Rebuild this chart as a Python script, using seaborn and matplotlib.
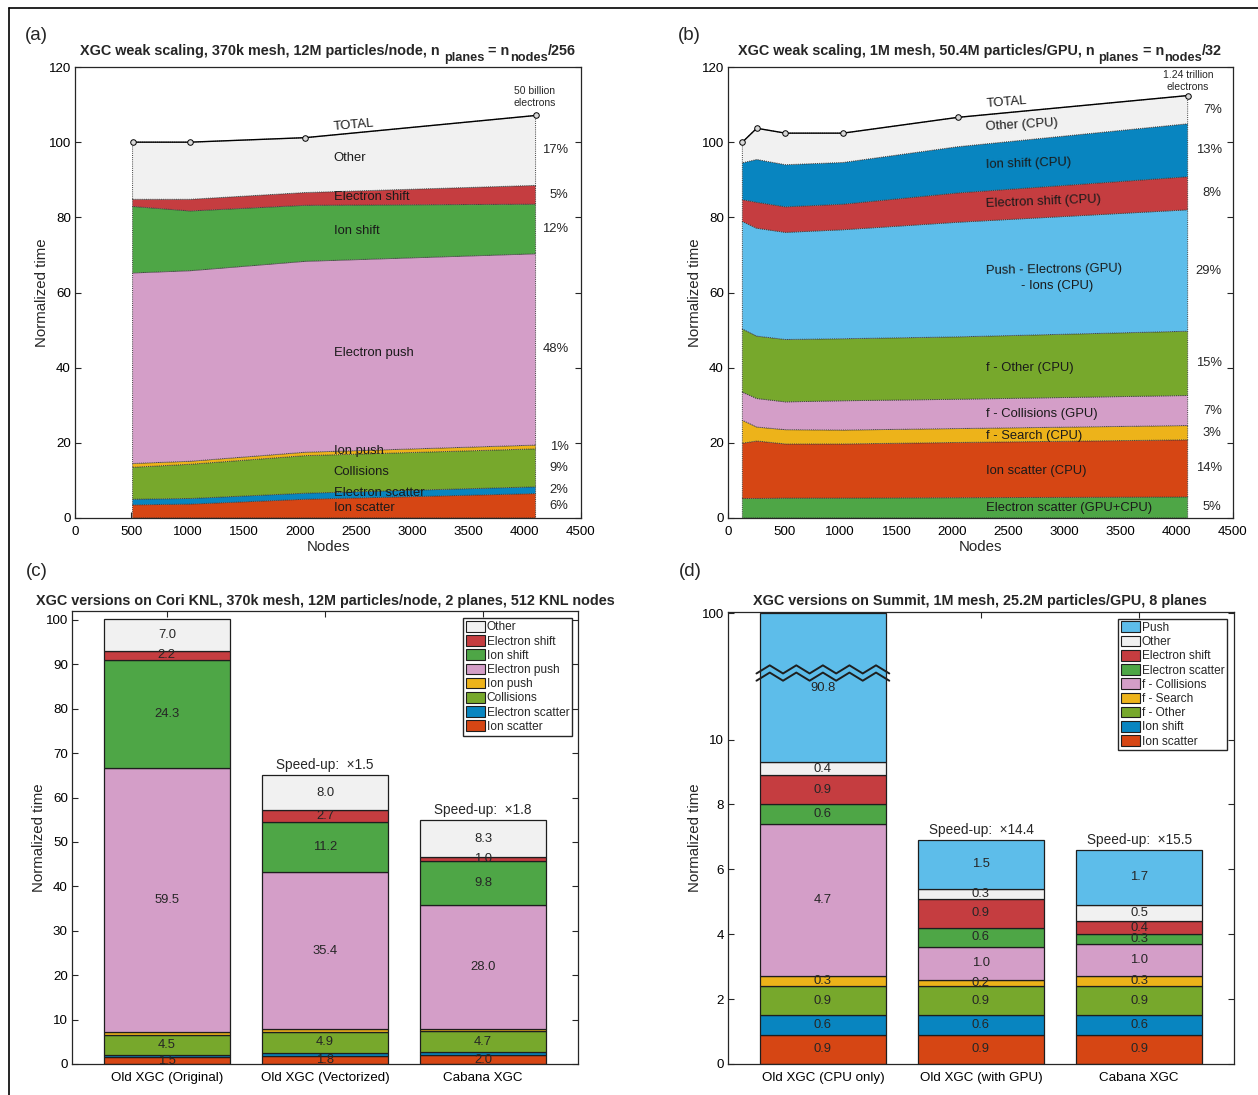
import numpy as np
import matplotlib
matplotlib.use("Agg")
import matplotlib.pyplot as plt
import matplotlib.transforms as mtransforms
from matplotlib.lines import Line2D
from matplotlib.patches import Patch
import seaborn as sns

# ---------------------------------------------------------------- data
# (a) weak scaling on KNL nodes, stacked bottom -> top
nodes_a = [512, 1024, 2048, 4096]
ion_scatter_a = [3.5, 3.7, 5.0, 6.5]
electron_scatter_a = [1.5, 1.5, 1.6, 1.8]
collisions_a = [8.5, 9.1, 10.0, 10.1]
ion_push_a = [1.0, 0.8, 0.9, 1.0]
electron_push_a = [50.7, 50.7, 50.8, 50.9]
ion_shift_a = [17.7, 15.9, 14.9, 13.2]
electron_shift_a = [1.9, 3.1, 3.4, 5.0]
other_a = [15.2, 15.2, 14.6, 18.6]

# (b) weak scaling on GPU nodes, stacked bottom -> top
nodes_b = [128, 256, 512, 1024, 2048, 4096]
electron_scatter_b = [5.2, 5.2, 5.3, 5.3, 5.4, 5.6]
ion_scatter_b = [14.7, 15.3, 14.4, 14.4, 14.7, 15.2]
f_search_b = [6.1, 3.7, 3.8, 3.7, 3.7, 3.8]
f_collisions_b = [7.5, 7.6, 7.4, 7.8, 7.8, 8.0]
f_other_b = [16.8, 16.6, 16.6, 16.5, 16.6, 17.1]
push_b = [28.6, 28.7, 28.5, 29.0, 30.5, 32.3]
electron_shift_b = [5.8, 6.9, 6.8, 6.8, 7.8, 8.8]
ion_shift_b = [9.8, 11.4, 11.2, 11.1, 12.3, 14.1]
other_b = [5.5, 8.3, 8.4, 7.8, 7.8, 7.5]

# (c) code versions on Cori KNL, stacked bottom -> top
versions_c = ["Old XGC (Original)", "Old XGC (Vectorized)", "Cabana XGC"]
ion_scatter_c = [1.5, 1.8, 2.0]
electron_scatter_c = [0.6, 0.6, 0.7]
collisions_c = [4.5, 4.9, 4.7]
ion_push_c = [0.5, 0.5, 0.4]
electron_push_c = [59.5, 35.4, 28.0]
ion_shift_c = [24.3, 11.2, 9.8]
electron_shift_c = [2.2, 2.7, 1.0]
other_c = [7.0, 8.0, 8.3]
speedup_c = [None, 1.5, 1.8]

# (d) code versions on Summit, stacked bottom -> top
versions_d = ["Old XGC (CPU only)", "Old XGC (with GPU)", "Cabana XGC"]
ion_scatter_d = [0.9, 0.9, 0.9]
ion_shift_d = [0.6, 0.6, 0.6]
f_other_d = [0.9, 0.9, 0.9]
f_search_d = [0.3, 0.2, 0.3]
f_collisions_d = [4.7, 1.0, 1.0]
electron_scatter_d = [0.6, 0.6, 0.3]
electron_shift_d = [0.9, 0.9, 0.4]
other_d = [0.4, 0.3, 0.5]
push_d = [90.8, 1.5, 1.7]
speedup_d = [None, 14.4, 15.5]

# ---------------------------------------------------------------- colours
C_OTHER = "#f1f1f1"
C_ESHIFT = "#c53d40"
C_GREEN = "#4ea646"
C_PINK = "#d49ec8"
C_YELLOW = "#edb31a"
C_OLIVE = "#77a82c"
C_BLUE = "#0885c0"
C_ORANGE = "#d64614"
C_LBLUE = "#5dbdea"
INK = "#262626"

sns.set_theme(style="ticks")
plt.rcParams["font.family"] = ["Liberation Sans", "DejaVu Sans"]

W, H = 1258, 1095
fig = plt.figure(figsize=(W / 100, H / 100), dpi=100)
renderer = fig.canvas.get_renderer()


def box(l, t, r, b):
    return [l / W, 1 - b / H, (r - l) / W, (b - t) / H]


def rich_title(cx, base_y, parts):
    """Bold title made of pieces (text, size, drop in px), centred at cx."""
    pieces, x = [], 0.0
    for s, size, dy in parts:
        t = fig.text(0, 0, s, fontsize=size, fontweight="bold",
                     ha="left", va="baseline")
        pieces.append((t, x, dy))
        x += t.get_window_extent(renderer).width
    start = cx - x / 2
    for t, xo, dy in pieces:
        t.set_position(((start + xo) / W, 1 - (base_y + dy) / H))


def style(ax, top=True):
    for s in ax.spines.values():
        s.set_color(INK)
        s.set_linewidth(0.9)
        s.set_visible(True)
    ax.tick_params(direction="in", top=top, right=True, length=4, width=0.8,
                   labelsize=9.6, color=INK, labelcolor="black", pad=3)
    ax.tick_params(axis="x", pad=6)


def pct(v, total):
    return f"{int(np.floor(100 * v / total + 0.5))}%"


def area_panel(ax, nodes, layers, colors, labels, xpct):
    ys = [np.array(v, dtype=float) for v in layers]
    ax.stackplot(nodes, *ys, colors=colors, edgecolor="#3c3c3c",
                 linewidth=0.7, linestyle=(0, (1, 1.2)))
    total = np.sum(ys, axis=0)
    sns.lineplot(x=nodes, y=total, ax=ax, color="black", lw=1.0, marker="o",
                 markersize=4, markerfacecolor="#d8d8d8",
                 markeredgecolor="black", markeredgewidth=0.7)
    cum = np.cumsum([y[-1] for y in ys])
    for i, y in enumerate(ys):
        mid = cum[i] - y[-1] / 2
        ax.text(xpct, mid, pct(y[-1], total[-1]), ha="right", va="center",
                fontsize=9.4, color=INK)
    for txt, x, y, rot in labels:
        ax.text(x, y, txt, ha="left", va="center", fontsize=9.4, color="#1a1a1a",
                rotation=rot, rotation_mode="anchor")
    ax.set_xlim(0, 4500)
    ax.set_xticks(range(0, 4501, 500))
    ax.set_ylim(0, 120)
    ax.set_yticks(range(0, 121, 20))
    ax.set_xlabel("Nodes", fontsize=10.8, labelpad=1)
    ax.set_ylabel("Normalized time", fontsize=10.8, labelpad=0)
    style(ax, top=False)
    return total


# ---------------------------------------------------------------- (a)
ax_a = fig.add_axes(box(75, 67, 581, 518))
labels_a = [("TOTAL", 2300, 104.0, 5), ("Other", 2300, 95.8, 0),
            ("Electron shift", 2300, 85.3, 0), ("Ion shift", 2300, 76.3, 0),
            ("Electron push", 2300, 43.8, 0), ("Ion push", 2300, 17.7, 0),
            ("Collisions", 2300, 12.3, 0), ("Electron scatter", 2300, 6.6, 0),
            ("Ion scatter", 2300, 2.7, 0)]
area_panel(ax_a, nodes_a,
           [ion_scatter_a, electron_scatter_a, collisions_a, ion_push_a,
            electron_push_a, ion_shift_a, electron_shift_a, other_a],
           [C_ORANGE, C_BLUE, C_OLIVE, C_YELLOW, C_PINK, C_GREEN, C_ESHIFT, C_OTHER],
           labels_a, 4390)
ax_a.text(4090, 112.0, "50 billion\nelectrons", ha="center", va="center",
          fontsize=7.5, color=INK, linespacing=1.3)
rich_title(328, 55, [("XGC weak scaling, 370k mesh, 12M particles/node, n ", 10.4, 0),
                     ("planes", 9.2, 6), (" = n", 10.4, 0), ("nodes", 9.2, 6),
                     ("/256", 10.4, 0)])

# ---------------------------------------------------------------- (b)
ax_b = fig.add_axes(box(728, 67, 1233, 518))
labels_b = [("TOTAL", 2300, 110.1, 4.5), ("Other (CPU)", 2300, 104.1, 3.2),
            ("Ion shift (CPU)", 2300, 94.0, 1.8),
            ("Electron shift (CPU)", 2300, 83.5, 2.3),
            ("Push - Electrons (GPU)", 2300, 65.8, 1.0),
            ("- Ions (CPU)", 2610, 61.6, 0),
            ("f - Other (CPU)", 2300, 39.8, 0),
            ("f - Collisions (GPU)", 2300, 27.6, 0),
            ("f - Search (CPU)", 2300, 21.9, 0),
            ("Ion scatter (CPU)", 2300, 12.6, 0),
            ("Electron scatter (GPU+CPU)", 2300, 2.6, 0)]
area_panel(ax_b, nodes_b,
           [electron_scatter_b, ion_scatter_b, f_search_b, f_collisions_b,
            f_other_b, push_b, electron_shift_b, ion_shift_b, other_b],
           [C_GREEN, C_ORANGE, C_YELLOW, C_PINK, C_OLIVE, C_LBLUE, C_ESHIFT, C_BLUE, C_OTHER],
           labels_b, 4400)
ax_b.text(4100, 116.3, "1.24 trillion\nelectrons", ha="center", va="center",
          fontsize=7.5, color=INK, linespacing=1.3)
rich_title(980, 55, [("XGC weak scaling, 1M mesh, 50.4M particles/GPU, n ", 10.4, 0),
                     ("planes", 9.2, 6), (" = n", 10.4, 0), ("nodes", 9.2, 6),
                     ("/32", 10.4, 0)])


# ---------------------------------------------------------------- bars
def bar_panel(ax, versions, names, layers, colors, min_label, speedups, fwd=None):
    x = np.arange(1, len(versions) + 1)
    bottom = np.zeros(len(versions))
    for name, vals, col in zip(names, layers, colors):
        vals = np.array(vals, dtype=float)
        ax.bar(x, vals, width=0.8, bottom=bottom, color=col, edgecolor="#1e1e1e",
               linewidth=0.9, label=name)
        for xi, b, v in zip(x, bottom, vals):
            if v >= min_label:
                if fwd is None:
                    yc = b + v / 2
                else:
                    yc = fwd[1]((fwd[0](b) + fwd[0](b + v)) / 2)
                ax.text(xi, float(yc), f"{v:.1f}", ha="center", va="center",
                        fontsize=9.4, color=INK)
        bottom = bottom + vals
    for xi, top, s in zip(x, bottom, speedups):
        if s is not None:
            ax.annotate(f"Speed-up:  \u00d7{s}", (xi, top), xytext=(0, 2),
                        textcoords="offset points", ha="center", va="bottom",
                        fontsize=9.8, color=INK)
    ax.set_xticks(x)
    ax.set_xticklabels(versions)
    ax.set_xlim(0.4, 3.6)
    ax.set_ylabel("Normalized time", fontsize=10.8, labelpad=0)
    style(ax)
    handles = [Patch(facecolor=c, edgecolor="#1e1e1e", linewidth=0.8, label=n)
               for n, c in zip(names, colors)][::-1]
    return handles


LEG = dict(fontsize=8.6, frameon=True, fancybox=False, framealpha=1,
           edgecolor=INK, handlelength=1.6, handleheight=1.0, handletextpad=0.15,
           labelspacing=0.15, borderpad=0.22, borderaxespad=0)

# (c)
ax_c = fig.add_axes(box(72, 611, 578, 1064))
names_c = ["Ion scatter", "Electron scatter", "Collisions", "Ion push",
           "Electron push", "Ion shift", "Electron shift", "Other"]
cols_c = [C_ORANGE, C_BLUE, C_OLIVE, C_YELLOW, C_PINK, C_GREEN, C_ESHIFT, C_OTHER]
h_c = bar_panel(ax_c, versions_c, names_c,
                [ion_scatter_c, electron_scatter_c, collisions_c, ion_push_c,
                 electron_push_c, ion_shift_c, electron_shift_c, other_c],
                cols_c, 1.0, speedup_c)
ax_c.set_ylim(0, 102)
ax_c.set_yticks(range(0, 101, 10))
ax_c.legend(handles=h_c, loc="upper right", bbox_to_anchor=(0.988, 0.984), **LEG)
rich_title(325, 605, [("XGC versions on Cori KNL, 370k mesh, 12M particles/node, 2 planes, 512 KNL nodes", 10.4, 0)])

# (d): linear up to 10, compressed logarithmic above
K_LOG = 3.9


def fwd_d(y):
    y = np.asarray(y, dtype=float)
    return np.where(y <= 10, y, 10 + K_LOG * np.log10(np.maximum(y, 10) / 10))


def inv_d(z):
    z = np.asarray(z, dtype=float)
    return np.where(z <= 10, z, 10 * 10 ** ((np.maximum(z, 10) - 10) / K_LOG))


ax_d = fig.add_axes(box(728, 612, 1234, 1064))
ax_d.set_yscale("function", functions=(fwd_d, inv_d))
names_d = ["Ion scatter", "Ion shift", "f - Other", "f - Search", "f - Collisions",
           "Electron scatter", "Electron shift", "Other", "Push"]
cols_d = [C_ORANGE, C_BLUE, C_OLIVE, C_YELLOW, C_PINK, C_GREEN, C_ESHIFT, C_OTHER, C_LBLUE]
h_d = bar_panel(ax_d, versions_d, names_d,
                [ion_scatter_d, ion_shift_d, f_other_d, f_search_d, f_collisions_d,
                 electron_scatter_d, electron_shift_d, other_d, push_d],
                cols_d, 0.0, speedup_d, fwd=(fwd_d, inv_d))
ax_d.set_ylim(0, 102)
ax_d.set_yticks([0, 2, 4, 6, 8, 10, 100])
ax_d.set_yticklabels(["0", "2", "4", "6", "8", "10", "100"])
ax_d.yaxis.set_minor_locator(matplotlib.ticker.NullLocator())
ax_d.legend(handles=h_d, loc="upper right", bbox_to_anchor=(0.986, 0.985), **LEG)
rich_title(980, 605, [("XGC versions on Summit, 1M mesh, 25.2M particles/GPU, 8 planes", 10.4, 0)])

# axis-break marks across the tall first bar
brk = mtransforms.blended_transform_factory(ax_d.transData, ax_d.transAxes)
zx = np.linspace(0.58, 1.42, 11)
zy = np.where(np.arange(11) % 2 == 0, -1.0, 1.0) * 0.009
for off in (0.873, 0.857):
    ax_d.plot(zx, zy + off, color="#1e1e1e", lw=1.4, transform=brk,
              clip_on=False, zorder=5)

# ---------------------------------------------------------------- panel letters, frame
for lab, px, py in [("(a)", 36, 35), ("(b)", 689, 35), ("(c)", 37, 572), ("(d)", 690, 572)]:
    fig.text(px / W, 1 - py / H, lab, fontsize=13.5, ha="center", va="center")

fig.add_artist(Line2D([9 / W, 1.0], [1 - 8 / H, 1 - 8 / H], color="black", lw=1.2))
fig.add_artist(Line2D([9 / W, 9 / W], [0.0, 1 - 8 / H], color="black", lw=1.2))

fig.savefig("out.png", dpi=100)
